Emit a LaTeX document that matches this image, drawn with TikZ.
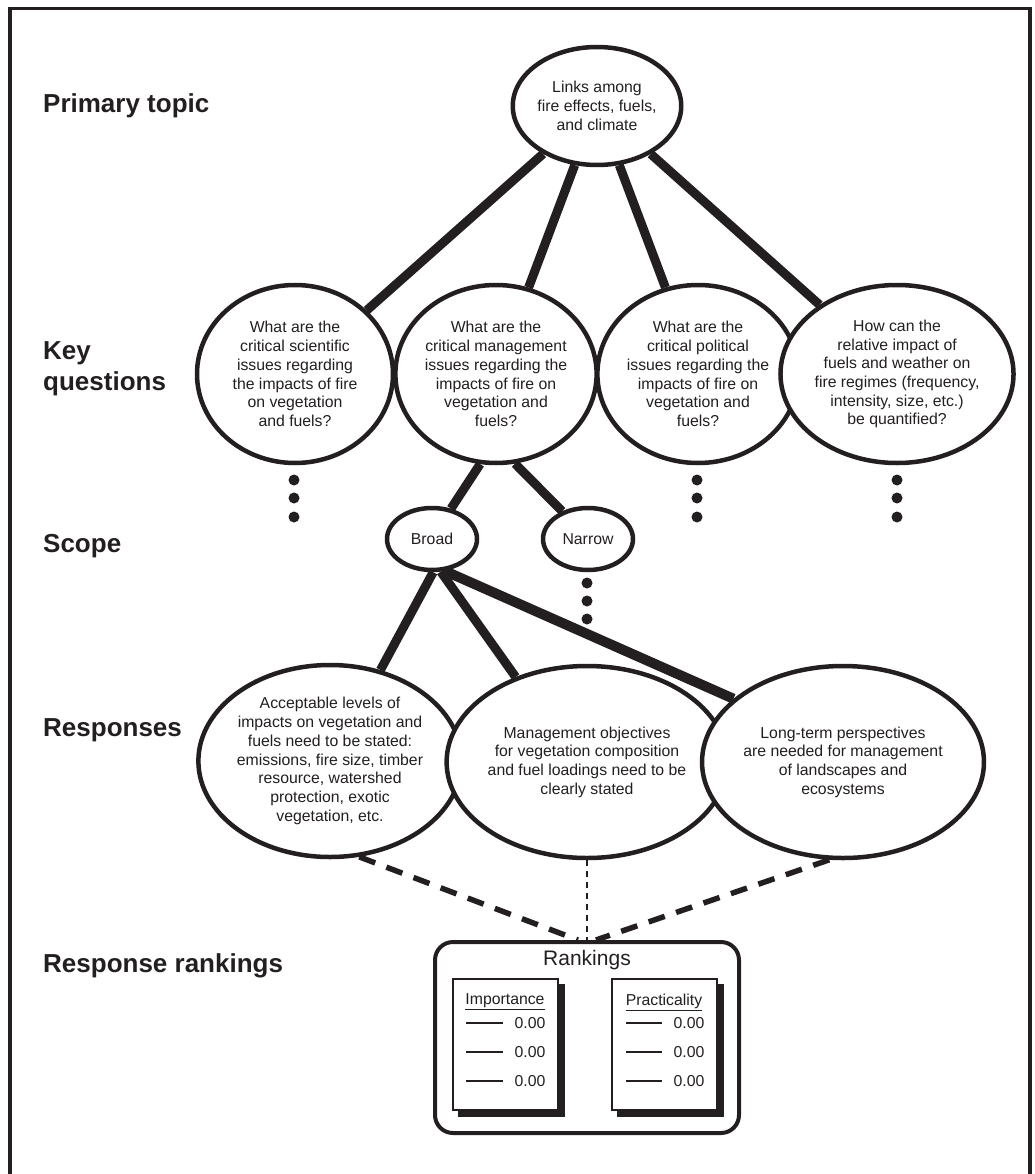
\documentclass[tikz,border=0pt]{standalone}
\usepackage{fontspec}
\setmainfont{Liberation Sans}
\usetikzlibrary{shapes.geometric}
\pgfdeclarelayer{bg}
\pgfsetlayers{bg,main}
\definecolor{ink}{HTML}{231F20}
\begin{document}
\begin{tikzpicture}[x=1pt,y=-1pt,
  bub/.style={ellipse, draw=ink, line width=4.5pt, fill=white, inner sep=0pt, align=center, text=ink, font=\fontsize{15.8}{18.7}\selectfont},
  lab/.style={anchor=base west, text=ink, font=\fontsize{26}{31}\selectfont\bfseries, inner sep=0pt},
  conn/.style={draw=ink, line width=9pt},
  dashconn/.style={draw=ink, line width=5.5pt, dash pattern=on 17pt off 12pt},
  dotconn/.style={draw=ink, line width=2.8pt, dash pattern=on 6pt off 5pt},
  dotmark/.style={circle, fill=ink, inner sep=0pt, minimum size=11pt},
  doc/.style={draw=ink, line width=2pt, fill=white, inner sep=0pt, minimum width=105pt, minimum height=131pt},
  small/.style={text=ink, font=\fontsize{15.8}{18.7}\selectfont, inner sep=0pt},
  rule/.style={draw=ink, line width=1.5pt},
]
\useasboundingbox (0,0) rectangle (1034,1174);
% frame
\draw[ink, line width=3.2pt] (10,1176) -- (10,8.5) -- (1030,8.5) -- (1030,1176);

% labels
\node[lab] (lprim) at (43,113) {Primary topic};
\node[lab] (lkey) at (43,359) {Key};
\node[lab] (lques) at (43,390) {questions};
\node[lab] (lscope) at (43,552) {Scope};
\node[lab] (lresp) at (43,736) {Responses};
\node[lab] (lrank) at (43,972) {Response rankings};

% top
\node[bub, minimum width=156pt, minimum height=118pt] (top) at (597,106) {Links among\\fire effects, fuels,\\and climate};

% key questions
\node[bub, minimum width=196pt, minimum height=178pt] (q1) at (295,374) {What are the\\critical scientific\\issues regarding\\the impacts of fire\\on vegetation\\and fuels?};
\node[bub, minimum width=196pt, minimum height=178pt] (q2) at (496,374) {What are the\\critical management\\issues regarding the\\impacts of fire on\\vegetation and\\fuels?};
\node[bub, minimum width=196pt, minimum height=178pt] (q3) at (698,374) {What are the\\critical political\\issues regarding the\\impacts of fire on\\vegetation and\\fuels?};
\node[bub, minimum width=196pt, minimum height=178pt] (q4) at (897,374) {How can the\\relative impact of\\fuels and weather on\\fire regimes (frequency,\\intensity, size, etc.)\\be quantified?};

% dots under key questions
\node[dotmark] (d1a) at (294,480) {};
\node[dotmark] (d1b) at (294,498) {};
\node[dotmark] (d1c) at (294,517) {};
\node[dotmark] (d3a) at (697,480) {};
\node[dotmark] (d3b) at (697,498) {};
\node[dotmark] (d3c) at (697,517) {};
\node[dotmark] (d4a) at (897,480) {};
\node[dotmark] (d4b) at (897,498) {};
\node[dotmark] (d4c) at (897,517) {};

% scope
\node[bub, minimum width=90pt, minimum height=62pt] (broad) at (432,539) {Broad};
\node[bub, minimum width=90pt, minimum height=62pt] (narrow) at (588,539) {Narrow};
\node[dotmark] (dna) at (587,583) {};
\node[dotmark] (dnb) at (587,601) {};
\node[dotmark] (dnc) at (587,619) {};

% responses
\node[bub, minimum width=250pt, minimum height=192pt] (r1) at (330,761) {Acceptable levels of\\impacts on vegetation and\\fuels need to be stated:\\emissions, fire size, timber\\resource, watershed\\protection, exotic\\vegetation, etc.};
\node[bub, minimum width=250pt, minimum height=192pt] (r2) at (587,762) {Management objectives\\for vegetation composition\\and fuel loadings need to be\\clearly stated};
\node[bub, minimum width=250pt, minimum height=192pt] (r3) at (843,762) {Long-term perspectives\\are needed for management\\of landscapes and\\ecosystems};

% rankings box
\node[draw=ink, line width=4pt, rounded corners=18pt, minimum width=304pt, minimum height=191pt, inner sep=0pt] (rank) at (587,1037.5) {};
\node[text=ink, font=\fontsize{21}{25}\selectfont, inner sep=0pt] (ranktitle) at (587,960) {Rankings};

\node[doc] (doc1) at (505.5,1044.5) {};
\node[doc] (doc2) at (664.5,1044.5) {};
\node[small] (imp) at (505,1002) {\underline{Importance}};
\node[small] (prac) at (664,1002) {\underline{Practicality}};
\foreach \yy/\nn in {1023/a,1052/b,1081/c}{
  \draw[rule] (466,\yy) -- (503,\yy);
  \node[small] (iv\nn) at (530,\yy) {0.00};
  \draw[rule] (626,\yy) -- (662,\yy);
  \node[small] (pv\nn) at (689,\yy) {0.00};
}

\begin{pgfonlayer}{bg}
  \fill[ink] ([shift={(6,6)}]doc1.south west) rectangle ([shift={(6,6)}]doc1.north east);
  \fill[ink] ([shift={(6,6)}]doc2.south west) rectangle ([shift={(6,6)}]doc2.north east);
  \draw[conn] (top) -- (q1);
  \draw[conn] (top) -- (q2);
  \draw[conn] (top) -- (q3);
  \draw[conn] (top) -- (q4);
  \draw[conn] (q2.-100) -- (broad.58);
  \draw[conn] (q2.-78) -- (narrow.133);
  \draw[conn] (broad.-88) -- (r1.61);
  \draw[conn] (broad.-75) -- (r2.130);
  \draw[conn, line width=10pt] (broad.-68) -- (r3.150);
  \draw[dashconn] (r1.-73) -- ([xshift=-9pt]rank.north);
  \draw[dashconn] (r3.-98) -- ([xshift=9pt]rank.north);
  \draw[dotconn] (r2.south) -- (rank.north);
\end{pgfonlayer}
\end{tikzpicture}
\end{document}
